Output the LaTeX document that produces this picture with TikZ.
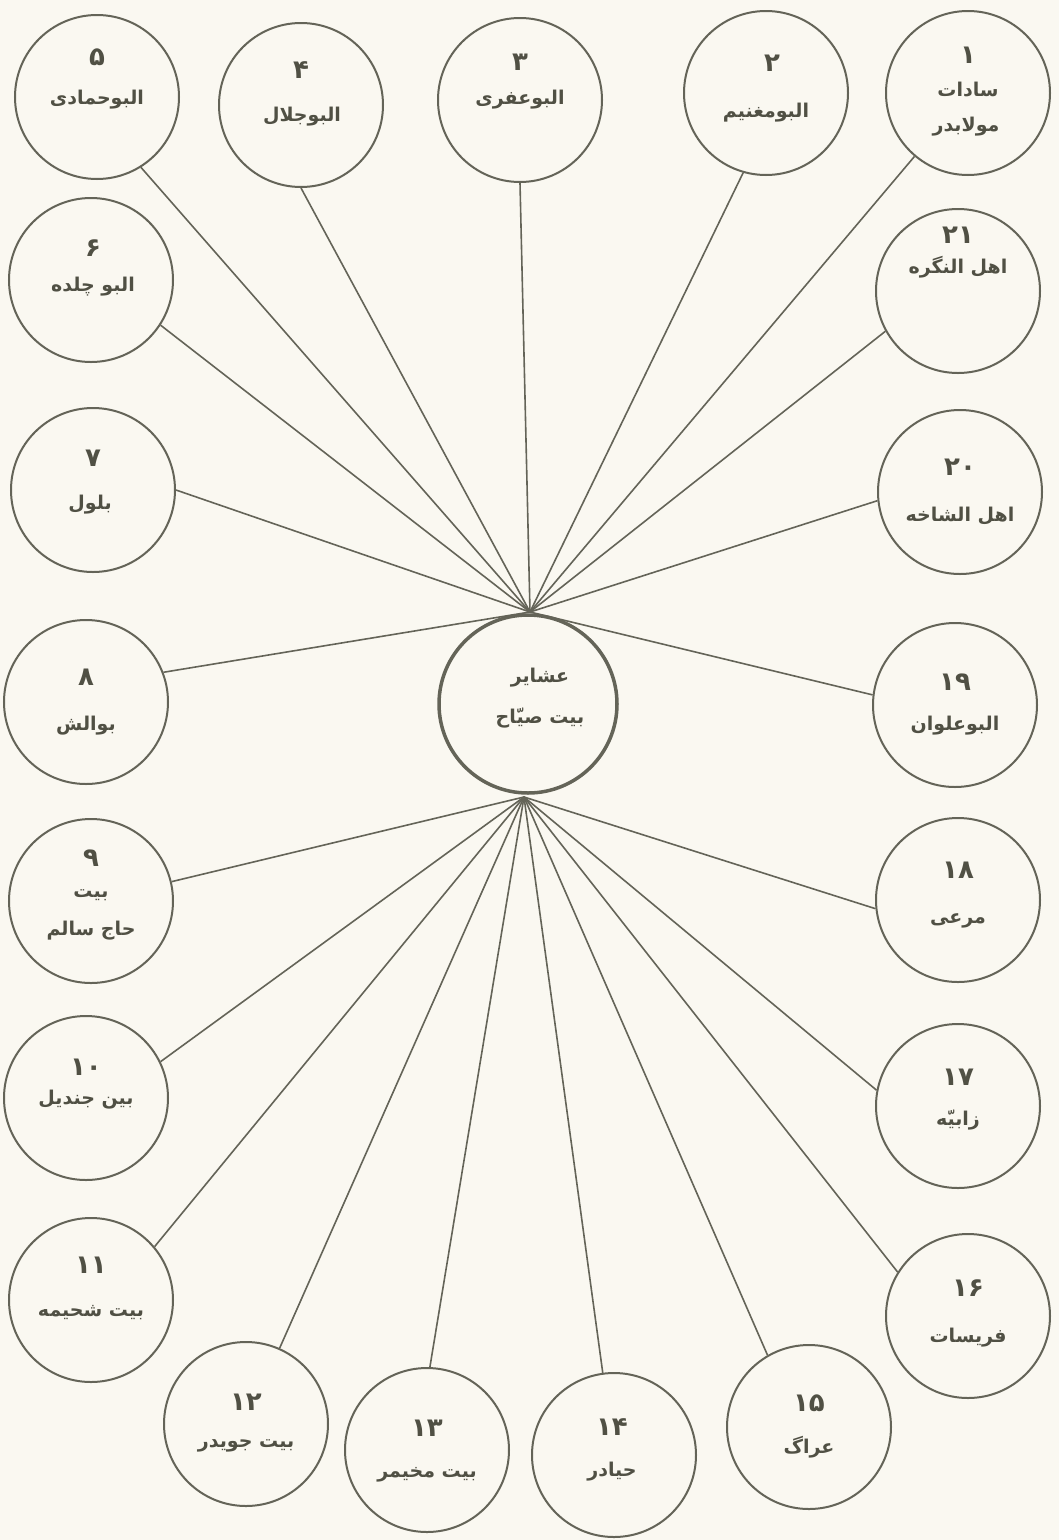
\documentclass[tikz,border=0pt]{standalone}
\usepackage{fontspec}
\newfontfamily\arabicfont[Script=Arabic]{DejaVu Sans}
\TeXXeTstate=1
\definecolor{ink}{RGB}{100,100,88}
\definecolor{txt}{RGB}{80,80,68}
\definecolor{paper}{RGB}{250,248,241}
\tikzset{
 tribe/.style={circle, draw=ink, line width=2pt, minimum size=164pt, inner sep=0pt},
 hubc/.style={circle, draw=ink, line width=3.5pt, minimum size=178pt, inner sep=0pt},
 conn/.style={draw=ink, line width=1.6pt},
 num/.style={text=txt, font=\arabicfont\bfseries\fontsize{26}{28}\selectfont, inner sep=0pt},
 lbl/.style={text=txt, font=\arabicfont\bfseries\fontsize{19}{21}\selectfont, inner sep=0pt},
}
\begin{document}
\begin{tikzpicture}[x=1pt,y=-1pt]
\fill[paper] (0,0) rectangle (1059,1540);
\useasboundingbox (0,0) rectangle (1059,1540);
% hub
\node[hubc] (hub) at (528,704) {};
\node[lbl] (h1) at (540,678) {\beginR عشایر\endR};
\node[lbl] (h2) at (540,718) {\beginR بیت صیّاح\endR};
\coordinate (top) at (530,612);
\coordinate (bot) at (524,797);
% circles
\node[tribe] (c1) at (968,93) {};
\node[num] (n1) at (968,55) {۱};
\node[lbl] (t1a) at (968,90) {\beginR سادات\endR};
\node[lbl] (t1b) at (966,127) {\beginR مولابدر\endR};
\node[tribe] (c2) at (766,93) {};
\node[num] (n2) at (772,63) {۲};
\node[lbl] (t2) at (766,113) {\beginR البومغنیم\endR};
\node[tribe] (c3) at (520,100) {};
\node[num] (n3) at (520,62) {۳};
\node[lbl] (t3) at (520,100) {\beginR البوعفری\endR};
\node[tribe] (c4) at (301,105) {};
\node[num] (n4) at (301,70) {۴};
\node[lbl] (t4) at (302,117) {\beginR البوجلال\endR};
\node[tribe] (c5) at (97,97) {};
\node[num] (n5) at (97,57) {۵};
\node[lbl] (t5) at (97,100) {\beginR البوحمادی\endR};
\node[tribe] (c6) at (91,280) {};
\node[num] (n6) at (93,248) {۶};
\node[lbl] (t6) at (93,287) {\beginR البو چلده\endR};
\node[tribe] (c7) at (93,490) {};
\node[num] (n7) at (93,458) {۷};
\node[lbl] (t7) at (90,505) {\beginR بلول\endR};
\node[tribe] (c8) at (86,702) {};
\node[num] (n8) at (86,677) {۸};
\node[lbl] (t8) at (86,726) {\beginR بوالش\endR};
\node[tribe] (c9) at (91,901) {};
\node[num] (n9) at (91,858) {۹};
\node[lbl] (t9a) at (91,895) {\beginR بیت\endR};
\node[lbl] (t9b) at (91,931) {\beginR حاج سالم\endR};
\node[tribe] (c10) at (86,1098) {};
\node[num] (n10) at (86,1067) {۱۰};
\node[lbl] (t10) at (86,1100) {\beginR بین جندیل\endR};
\node[tribe] (c11) at (91,1300) {};
\node[num] (n11) at (91,1265) {۱۱};
\node[lbl] (t11) at (91,1313) {\beginR بیت شحیمه\endR};
\node[tribe] (c12) at (246,1424) {};
\node[num] (n12) at (246,1402) {۱۲};
\node[lbl] (t12) at (246,1446) {\beginR بیت جویدر\endR};
\node[tribe] (c13) at (427,1450) {};
\node[num] (n13) at (427,1428) {۱۳};
\node[lbl] (t13) at (427,1475) {\beginR بیت مخیمر\endR};
\node[tribe] (c14) at (614,1455) {};
\node[num] (n14) at (612,1427) {۱۴};
\node[lbl] (t14) at (612,1472) {\beginR حیادر\endR};
\node[tribe] (c15) at (809,1427) {};
\node[num] (n15) at (809,1403) {۱۵};
\node[lbl] (t15) at (809,1447) {\beginR عراگ\endR};
\node[tribe] (c16) at (968,1316) {};
\node[num] (n16) at (968,1288) {۱۶};
\node[lbl] (t16) at (968,1338) {\beginR فریسات\endR};
\node[tribe] (c17) at (958,1106) {};
\node[num] (n17) at (958,1077) {۱۷};
\node[lbl] (t17) at (958,1120) {\beginR زابیّه\endR};
\node[tribe] (c18) at (958,900) {};
\node[num] (n18) at (958,870) {۱۸};
\node[lbl] (t18) at (958,921) {\beginR مرعی\endR};
\node[tribe] (c19) at (955,705) {};
\node[num] (n19) at (955,682) {۱۹};
\node[lbl] (t19) at (955,726) {\beginR البوعلوان\endR};
\node[tribe] (c20) at (960,492) {};
\node[num] (n20) at (960,467) {۲۰};
\node[lbl] (t20) at (960,516) {\beginR اهل الشاخه\endR};
\node[tribe] (c21) at (958,291) {};
\node[num] (n21) at (958,235) {۲۱};
\node[lbl] (t21) at (958,267) {\beginR اهل النگره\endR};
% connectors
\draw[conn] (c1) -- (top);
\draw[conn] (c2.254) -- (top);
\draw[conn] (c3.south) -- (top);
\draw[conn] (c4.south) -- (top);
\draw[conn] (c5.302) -- (top);
\draw[conn] (c6.327) -- (top);
\draw[conn] (c7.east) -- (top);
\draw[conn] (c8.21) -- (top);
\draw[conn] (c19.173) -- (top);
\draw[conn] (c20.186) -- (top);
\draw[conn] (c21.209) -- (top);
\draw[conn] (c9) -- (bot);
\draw[conn] (c10.26) -- (bot);
\draw[conn] (c11.40) -- (bot);
\draw[conn] (c12) -- (bot);
\draw[conn] (c13.88) -- (bot);
\draw[conn] (c14) -- (bot);
\draw[conn] (c15.120) -- (bot);
\draw[conn] (c16.148) -- (bot);
\draw[conn] (c17.169) -- (bot);
\draw[conn] (c18.186) -- (bot);
\end{tikzpicture}
\end{document}
